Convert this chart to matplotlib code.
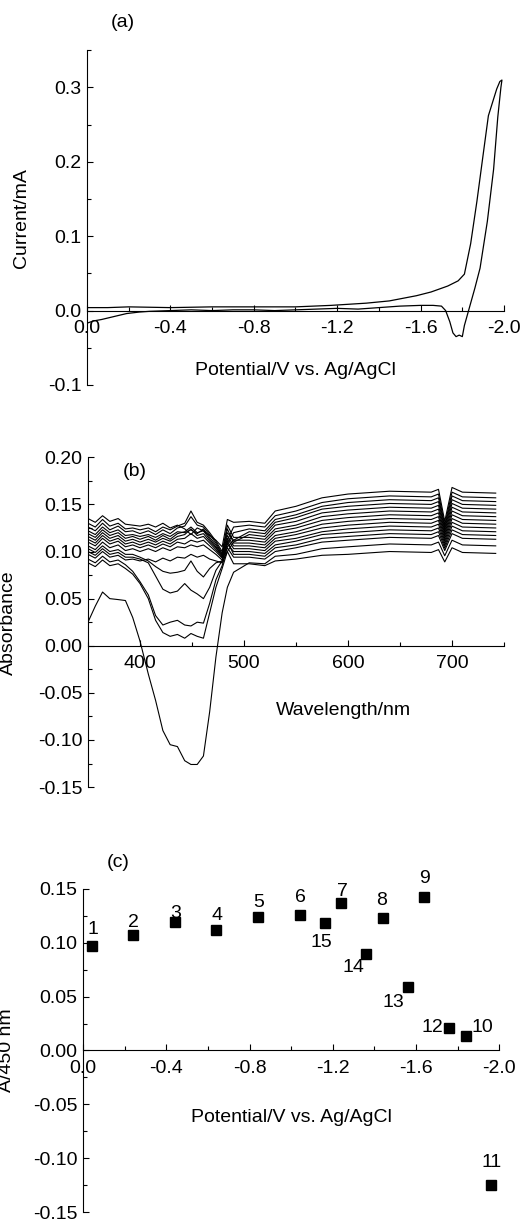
import matplotlib.pyplot as plt
from matplotlib.ticker import MultipleLocator, FormatStrFormatter

plt.rcParams['font.family'] = ['Liberation Sans', 'DejaVu Sans']
plt.rcParams['font.size'] = 14

# ---- (a) cyclic voltammogram ----
cv_potential = [0.000, -0.03, -0.07, -0.13, -0.19, -0.25, -0.30, -0.40, -0.50, -0.60,
                -0.70, -0.80, -0.90, -1.00, -1.10, -1.20, -1.30, -1.40, -1.50, -1.60,
                -1.66, -1.70, -1.72, -1.74, -1.755, -1.77, -1.785, -1.80, -1.81, -1.83,
                -1.86, -1.885, -1.92, -1.95, -1.97, -1.985, -1.99, -1.98, -1.965, -1.945,
                -1.925, -1.90, -1.87, -1.84, -1.81, -1.78, -1.73, -1.65, -1.58, -1.45,
                -1.34, -1.17, -1.00, -0.80, -0.60, -0.40, -0.20, -0.10, 0.00]
cv_current = [-0.017, -0.014, -0.012, -0.008, -0.004, -0.002, -0.001, 0.000, 0.001, 0.000,
              0.001, 0.001, 0.000, 0.001, 0.002, 0.003, 0.002, 0.004, 0.006, 0.007,
              0.007, 0.006, 0.000, -0.015, -0.030, -0.035, -0.033, -0.035, -0.020, 0.000,
              0.030, 0.057, 0.120, 0.190, 0.260, 0.300, 0.310, 0.308, 0.298, 0.280,
              0.262, 0.210, 0.147, 0.090, 0.049, 0.040, 0.033, 0.025, 0.020, 0.013,
              0.010, 0.007, 0.005, 0.005, 0.005, 0.004, 0.005, 0.004, 0.004]

# ---- (b) spectra recorded at each potential step ----
wavelength = [350, 357, 364, 371, 379, 386, 393, 400, 408, 415, 422, 429, 436, 443, 449,
              455, 461, 467, 473, 479, 484, 490, 505, 520, 530, 550, 575, 600, 640, 680,
              687, 693, 700, 710, 742]

spectra = {
    1: [.097, .093, .100, .094, .096, .091, .092, .090, .092, .089, .093, .090, .094, .093, .097,
        .094, .096, .092, .090, .088, .100, .087, .087, .085, .090, .092, .096, .097, .100, .099,
        .102, .089, .104, .099, .098],
    2: [.106, .102, .110, .104, .107, .101, .103, .100, .103, .100, .104, .101, .105, .104, .107,
        .105, .107, .102, .097, .091, .104, .094, .094, .092, .100, .104, .110, .112, .115, .114,
        .117, .101, .119, .114, .113],
    3: [.113, .109, .117, .111, .114, .108, .110, .107, .110, .107, .111, .108, .113, .114, .119,
        .114, .116, .109, .102, .094, .111, .097, .097, .095, .104, .107, .114, .116, .119, .118,
        .121, .1035, .123, .118, .117],
    4: [.110, .106, .114, .108, .111, .105, .107, .104, .107, .104, .108, .105, .110, .108, .112,
        .110, .112, .106, .100, .093, .108, .100, .100, .098, .107, .111, .118, .120, .123, .122,
        .125, .106, .127, .122, .121],
    5: [.116, .112, .120, .114, .117, .111, .113, .110, .113, .110, .114, .111, .116, .118, .124,
        .117, .119, .111, .104, .095, .114, .103, .103, .101, .111, .114, .121, .124, .127, .126,
        .129, .1085, .131, .126, .125],
    6: [.119, .115, .123, .117, .120, .114, .116, .113, .116, .112, .117, .113, .119, .121, .126,
        .120, .122, .113, .105, .096, .117, .106, .106, .104, .114, .118, .125, .128, .131, .130,
        .133, .111, .135, .130, .129],
    7: [.126, .122, .130, .123, .127, .121, .122, .119, .122, .118, .123, .119, .125, .127, .137,
        .128, .126, .118, .109, .098, .124, .109, .109, .107, .117, .121, .129, .132, .135, .134,
        .137, .1135, .139, .134, .133],
    8: [.122, .118, .126, .120, .123, .117, .118, .116, .118, .115, .119, .116, .121, .120, .123,
        .119, .124, .115, .107, .097, .120, .112, .112, .110, .121, .125, .133, .136, .139, .138,
        .141, .116, .143, .138, .137],
    9: [.130, .126, .134, .127, .130, .124, .125, .123, .125, .121, .126, .123, .127, .130, .143,
        .131, .128, .120, .111, .100, .128, .115, .115, .113, .124, .128, .137, .140, .143, .142,
        .145, .1185, .147, .142, .141],
    10: [.088, .084, .091, .085, .087, .082, .076, .066, .050, .027, .014, .010, .012, .008, .013,
         .010, .008, .035, .062, .082, .100, .110, .118, .116, .128, .132, .141, .144, .147, .146,
         .149, .121, .151, .146, .145],
    11: [.025, .042, .057, .050, .049, .048, .030, .005, -.030, -.058, -.090, -.105, -.107, -.122, -.126,
         -.126, -.117, -.070, -.012, .035, .062, .078, .088, .087, .095, .097, .103, .105, .108, .107,
         .110, .0955, .112, .107, .106],
    12: [.092, .088, .095, .089, .091, .086, .079, .068, .054, .032, .022, .025, .027, .022, .021,
         .025, .024, .045, .070, .085, .105, .112, .121, .119, .131, .136, .145, .148, .151, .150,
         .153, .1235, .155, .150, .149],
    13: [.100, .096, .103, .097, .099, .094, .094, .092, .088, .074, .060, .056, .058, .066, .059,
         .055, .050, .062, .080, .090, .108, .120, .124, .122, .134, .139, .148, .152, .155, .154,
         .157, .126, .159, .154, .153],
    14: [.103, .099, .106, .100, .102, .097, .097, .094, .090, .084, .079, .077, .078, .080, .090,
         .079, .073, .082, .088, .090, .112, .126, .128, .126, .138, .143, .152, .156, .159, .158,
         .161, .1285, .163, .158, .157],
    15: [.135, .131, .138, .132, .135, .129, .128, .127, .129, .126, .130, .125, .128, .124, .118,
         .125, .122, .117, .112, .105, .134, .131, .132, .130, .143, .148, .157, .161, .164, .163,
         .166, .132, .168, .163, .162],
}

# ---- (c) absorbance at 450 nm for each spectrum ----
point_ids = [1, 2, 3, 4, 5, 6, 7, 8, 9, 10, 11, 12, 13, 14, 15]
point_potential = [-0.04, -0.24, -0.44, -0.64, -0.84, -1.04, -1.24, -1.44, -1.64,
                   -1.84, -1.96, -1.76, -1.56, -1.36, -1.16]
point_a450 = [0.097, 0.107, 0.119, 0.112, 0.124, 0.126, 0.137, 0.123, 0.143,
              0.013, -0.125, 0.021, 0.059, 0.090, 0.118]
label_offsets = [(1, 17), (0, 13), (1, 9), (1, 14), (1, 14), (1, 17), (1, 11), (-1, 18),
                 (0, 18), (16, 9), (1, 23), (-17, 0), (-14, -16), (-13, -14), (-3, -19)]

fig = plt.figure(figsize=(5.3, 12.26), dpi=100)
ax_a = fig.add_axes([0.164, 0.686, 0.787, 0.273])
ax_b = fig.add_axes([0.166, 0.358, 0.785, 0.269])
ax_c = fig.add_axes([0.157, 0.0114, 0.785, 0.2635])


def style_axes(ax):
    for side in ['top', 'right']:
        ax.spines[side].set_visible(False)
    ax.spines['bottom'].set_position(('data', 0))
    for side in ['left', 'bottom']:
        ax.spines[side].set_linewidth(0.8)
    ax.tick_params(which='both', direction='in', width=0.8)
    ax.tick_params(which='major', length=4)
    ax.tick_params(which='minor', length=3)
    ax.tick_params(axis='x', pad=7)
    ax.tick_params(axis='y', pad=4)


# (a)
ax_a.plot(cv_potential, cv_current, color='black', lw=0.9)
ax_a.set_xlim(0, -2.0)
ax_a.set_ylim(-0.1, 0.35)
style_axes(ax_a)
ax_a.xaxis.set_major_locator(MultipleLocator(0.4))
ax_a.xaxis.set_minor_locator(MultipleLocator(0.2))
ax_a.xaxis.set_major_formatter(FormatStrFormatter('%.1f'))
ax_a.yaxis.set_major_locator(MultipleLocator(0.1))
ax_a.yaxis.set_minor_locator(MultipleLocator(0.05))
ax_a.yaxis.set_major_formatter(FormatStrFormatter('%.1f'))
ax_a.set_ylabel('Current/mA')
ax_a.yaxis.set_label_coords(-0.137, 0.5)
ax_a.set_xlabel('Potential/V vs. Ag/AgCl')
ax_a.xaxis.set_label_coords(0.5, 0.069)
ax_a.text(0.086, 1.084, '(a)', transform=ax_a.transAxes, ha='center', va='center')

# (b)
for k in spectra:
    ax_b.plot(wavelength, spectra[k], color='black', lw=0.8)
ax_b.set_xlim(350, 750)
ax_b.set_ylim(-0.15, 0.20)
style_axes(ax_b)
ax_b.xaxis.set_major_locator(MultipleLocator(100))
ax_b.xaxis.set_minor_locator(MultipleLocator(50))
ax_b.yaxis.set_major_locator(MultipleLocator(0.05))
ax_b.yaxis.set_minor_locator(MultipleLocator(0.025))
ax_b.yaxis.set_major_formatter(FormatStrFormatter('%.2f'))
ax_b.set_ylabel('Absorbance')
ax_b.yaxis.set_label_coords(-0.171, 0.5)
ax_b.set_xlabel('Wavelength/nm')
ax_b.xaxis.set_label_coords(0.613, 0.258)
ax_b.text(0.113, 0.958, '(b)', transform=ax_b.transAxes, ha='center', va='center')

# (c)
ax_c.plot(point_potential, point_a450, 's', color='black', ms=6.5, clip_on=False)
for pid, x, y, off in zip(point_ids, point_potential, point_a450, label_offsets):
    ax_c.annotate(str(pid), (x, y), xytext=off, textcoords='offset pixels',
                  ha='center', va='center')
ax_c.set_xlim(0, -2.0)
ax_c.set_ylim(-0.15, 0.15)
style_axes(ax_c)
ax_c.xaxis.set_major_locator(MultipleLocator(0.4))
ax_c.xaxis.set_minor_locator(MultipleLocator(0.2))
ax_c.xaxis.set_major_formatter(FormatStrFormatter('%.1f'))
ax_c.yaxis.set_major_locator(MultipleLocator(0.05))
ax_c.yaxis.set_minor_locator(MultipleLocator(0.025))
ax_c.yaxis.set_major_formatter(FormatStrFormatter('%.2f'))
ax_c.set_ylabel('A/450 nm')
ax_c.yaxis.set_label_coords(-0.163, 0.5)
ax_c.set_xlabel('Potential/V vs. Ag/AgCl')
ax_c.xaxis.set_label_coords(0.5, 0.319)
ax_c.text(0.084, 1.082, '(c)', transform=ax_c.transAxes, ha='center', va='center')

fig.savefig('out.png', dpi=100)
